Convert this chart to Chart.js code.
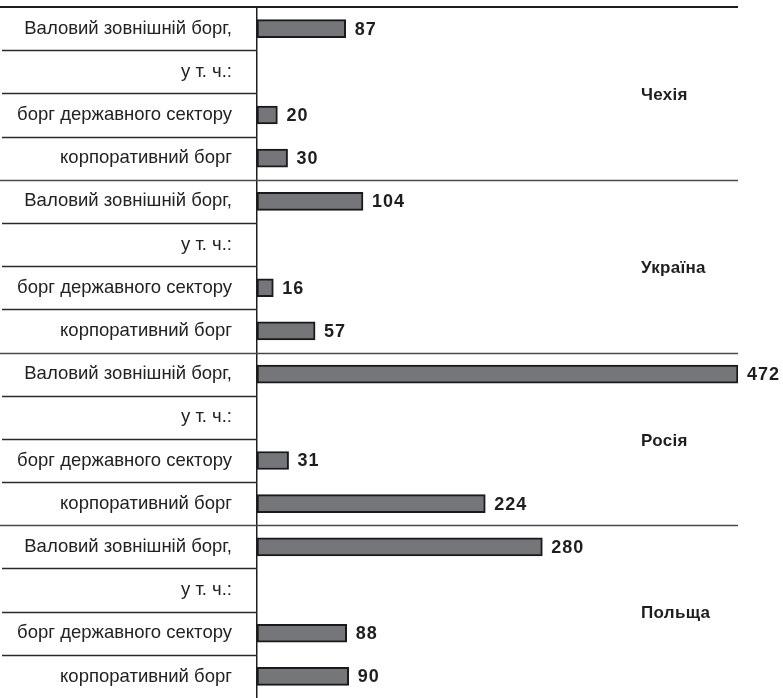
<!DOCTYPE html>
<html>
<head>
<meta charset="utf-8">
<script src="https://cdn.jsdelivr.net/npm/chart.js@4.4.1/dist/chart.umd.min.js"></script>
<style>
  html, body { margin: 0; padding: 0; background: #fff; }
  #wrap { position: relative; width: 783px; height: 698px; }
</style>
</head>
<body>
<div id="wrap"><canvas id="c" width="783" height="698"></canvas></div>
<script>
// External debt, bn USD
const countries = ['Чехія', 'Україна', 'Росія', 'Польща'];
const rowLabels = ['Валовий зовнішній борг,', 'у т. ч.:', 'борг державного сектору', 'корпоративний борг'];
const grossDebt = [87, 104, 472, 280];
const publicDebt = [20, 16, 31, 88];
const corporateDebt = [30, 57, 224, 90];

const labels = [];
const values = [];
countries.forEach((c, i) => {
  labels.push(...rowLabels);
  values.push(grossDebt[i], null, publicDebt[i], corporateDebt[i]);
});

const FONT = '"Liberation Sans", Arial, Helvetica, sans-serif';

// Separator lines, value labels and country names
const decorations = {
  id: 'decorations',
  afterDatasetsDraw(chart) {
    const ctx = chart.ctx;
    const y = chart.scales.y;
    const x = chart.scales.x;
    const area = chart.chartArea;
    const n = labels.length;
    const step = (y.getPixelForValue(1) - y.getPixelForValue(0));
    ctx.save();
    // top rule
    ctx.strokeStyle = '#1e1e1e';
    ctx.lineWidth = 2;
    ctx.beginPath();
    ctx.moveTo(0, area.top);
    ctx.lineTo(area.right, area.top);
    ctx.stroke();
    // row boundaries
    for (let i = 1; i < n; i++) {
      const py = Math.round(y.getPixelForValue(i) - step / 2) + 0.5;
      ctx.beginPath();
      if (i % 4 === 0) {
        ctx.strokeStyle = '#4a4a4a';
        ctx.lineWidth = 1.3;
        ctx.moveTo(0, py);
        ctx.lineTo(area.right, py);
      } else {
        ctx.strokeStyle = '#2a2a2a';
        ctx.lineWidth = 1.3;
        ctx.moveTo(2, py);
        ctx.lineTo(area.left, py);
      }
      ctx.stroke();
    }
    // value labels
    ctx.fillStyle = '#1e1e1e';
    ctx.font = 'bold 18px ' + FONT;
    ctx.letterSpacing = '1px';
    ctx.textAlign = 'left';
    ctx.textBaseline = 'middle';
    const meta = chart.getDatasetMeta(0);
    meta.data.forEach((bar, i) => {
      const v = values[i];
      if (v === null) return;
      ctx.fillText(String(v), x.getPixelForValue(v) + 9, bar.y + 1);
    });
    // country names
    ctx.letterSpacing = '0.3px';
    ctx.font = 'bold 17px ' + FONT;
    countries.forEach((c, g) => {
      const py = (y.getPixelForValue(g * 4 + 1) + y.getPixelForValue(g * 4 + 2)) / 2 + 2;
      ctx.fillText(c, 641, py);
    });
    ctx.restore();
  }
};

new Chart(document.getElementById('c'), {
  type: 'bar',
  data: {
    labels: labels,
    datasets: [{
      data: values,
      backgroundColor: '#75767a',
      borderColor: '#1a1a1a',
      borderWidth: 2,
      borderSkipped: false,
      barThickness: 18
    }]
  },
  options: {
    indexAxis: 'y',
    responsive: false,
    animation: false,
    layout: { padding: { left: 0, top: 7, right: 45, bottom: 0 } },
    plugins: { legend: { display: false }, tooltip: { enabled: false } },
    scales: {
      x: {
        display: false,
        min: 0,
        max: 472
      },
      y: {
        type: 'category',
        afterFit(scale) {
          scale.width = 257;
          scale.paddingTop = 0;
          scale.paddingBottom = 0;
        },
        grid: { display: true, drawOnChartArea: false, drawTicks: false, tickLength: 0 },
        border: { display: true, color: '#1e1e1e', width: 1.5 },
        ticks: {
          padding: 25,
          autoSkip: false,
          color: '#222',
          font: { family: FONT, size: 18.5 }
        }
      }
    }
  },
  plugins: [decorations]
});
</script>
</body>
</html>
